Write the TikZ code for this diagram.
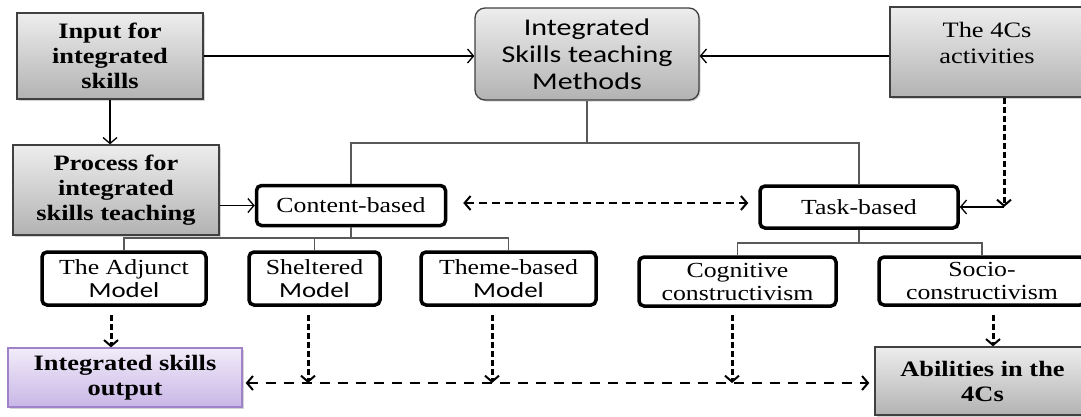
\documentclass[tikz,border=0pt]{standalone}
\usepackage{fontspec}
\setmainfont{Liberation Serif}[FakeStretch=1.2]
\newfontfamily\calfont{Carlito}[FakeStretch=1.25]
\usetikzlibrary{arrows.meta,shadows,calc}
\definecolor{purtop}{RGB}{242,236,249}
\definecolor{purbot}{RGB}{200,182,230}
\definecolor{purline}{RGB}{160,130,200}
\tikzset{
  shadowed/.style={drop shadow={shadow xshift=1.5pt,shadow yshift=-1.5pt,opacity=0.35}},
  graybox/.style={draw=black!75, line width=1.3pt, top color=black!7, bottom color=black!30,
    shadowed, inner sep=0pt, align=center},
  boldtxt/.style={font=\fontsize{22}{25}\selectfont\bfseries},
  regtxt/.style={font=\fontsize{22}{26}\selectfont},
  istbox/.style={graybox, rounded corners=10pt, font=\calfont\fontsize{24}{27}\selectfont},
  whitebox/.style={draw=black, line width=3.5pt, rounded corners=5pt, fill=white,
    inner sep=0pt, align=center, font=\fontsize{21.5}{23}\selectfont},
  purplebox/.style={draw=purline, line width=1.3pt, top color=purtop, bottom color=purbot,
    shadowed, inner sep=0pt, align=center, font=\fontsize{22}{25}\selectfont\bfseries},
  tree/.style={draw=black!65, line width=1.4pt},
  sarr/.style={draw=black, line width=1.3pt, -{Straight Barb[length=6pt,width=14pt]}},
  tipd/.tip={Straight Barb[length=6pt,width=14pt,line width=2pt]},
  darr/.style={draw=black, line width=3pt, dash pattern=on 6pt off 3pt, -tipd},
  darrmid/.style={draw=black, line width=2.6pt, dash pattern=on 8pt off 5pt, tipd-tipd},
  darrbot/.style={draw=black, line width=2.6pt, dash pattern=on 10pt off 8pt, tipd-tipd},
}
\begin{document}
\begin{tikzpicture}[x=1pt, y=-1pt]
\useasboundingbox (0,0) rectangle (1081,416);

% top row
\node[graybox, boldtxt, minimum width=186pt, minimum height=86pt] (input) at (110,56) {Input for\\integrated\\skills};
\node[istbox, minimum width=224pt, minimum height=92pt] (ist) at (587,54) {Integrated\\Skills teaching\\Methods};
\node[graybox, regtxt, minimum width=194pt, minimum height=90pt] (fourc) at (987,52) {The 4Cs\\activities\\[-16pt]\strut};

% second row
\node[graybox, boldtxt, minimum width=206pt, minimum height=90pt] (process) at (116,190) {Process for\\integrated\\skills teaching};
\node[whitebox, minimum width=189pt, minimum height=40pt] (content) at (351,205.5) {Content-based};
\node[whitebox, minimum width=198pt, minimum height=42pt] (task) at (859,207) {Task-based};

% third row
\node[whitebox, minimum width=164pt, minimum height=53pt] (adjunct) at (124,278.5) {The Adjunct\\{\calfont Model}};
\node[whitebox, minimum width=131pt, minimum height=53pt] (sheltered) at (314.5,278.5) {Sheltered\\{\calfont Model}};
\node[whitebox, minimum width=175pt, minimum height=53pt] (theme) at (508.5,278.5) {Theme-based\\{\calfont Model}};
\node[whitebox, minimum width=197pt, minimum height=49pt] (cognitive) at (737.5,281.5) {Cognitive\\constructivism};
\node[whitebox, minimum width=206pt, minimum height=48pt] (socio) at (982,281) {Socio-\\constructivism};

% bottom row
\node[purplebox, minimum width=234pt, minimum height=59pt] (output) at (125,377.5) {Integrated skills\\output};
\node[graybox, boldtxt, minimum width=215pt, minimum height=68pt] (abilities) at (982.5,381) {Abilities in the\\4Cs};

% top connectors
\draw[sarr] (input.east) -- (ist.west |- input.east);
\draw[sarr] (fourc.west |- input.east) -- (ist.east |- input.east);
\draw[sarr] (input.south) -- (input.south |- process.north);

\coordinate (j1) at (587,143);
\draw[tree] (ist.south) -- (j1);
\draw[tree] (content.north) |- (j1) -| (task.north);

\draw[sarr] (process.east |- content.west) -- (content.west);

\coordinate (m) at (0,203);
\draw[darrmid] ([xshift=16pt]content.east |- m) -- ([xshift=-10pt]task.west |- m);

\coordinate (k) at (1004,207);
\draw[darr] (fourc.south -| k) -- (k);
\draw[sarr] (k) -- (task.east |- k);

% trees
\coordinate (c2) at (0,238);
\draw[tree] (content.south) -- (content.south |- c2);
\draw[tree] (adjunct.north) |- (theme.north |- c2) -- (theme.north);
\draw[tree] (sheltered.north) -- (sheltered.north |- c2);

\coordinate (t2) at (0,243);
\draw[tree] (task.south) -- (task.south |- t2);
\draw[tree] (cognitive.north) |- (socio.north |- t2) -- (socio.north);

% bottom dashed
\coordinate (b) at (0,383);
\draw[darrbot] ([xshift=3pt]output.east |- b) -- ([xshift=-5pt]abilities.west |- b);

\coordinate (xa) at (111,0);
\coordinate (xs) at (308,0);
\coordinate (xt) at (492,0);
\coordinate (xc) at (732,0);
\coordinate (xo) at (993,0);
\draw[darr, shorten <=8pt] (adjunct.south -| xa) -- (output.north -| xa);
\draw[darr, shorten <=8pt] (sheltered.south -| xs) -- (xs |- b);
\draw[darr, shorten <=8pt] (theme.south -| xt) -- (xt |- b);
\draw[darr, shorten <=7pt] (cognitive.south -| xc) -- (xc |- b);
\draw[darr, shorten <=8pt] (socio.south -| xo) -- (abilities.north -| xo);
\end{tikzpicture}
\end{document}
